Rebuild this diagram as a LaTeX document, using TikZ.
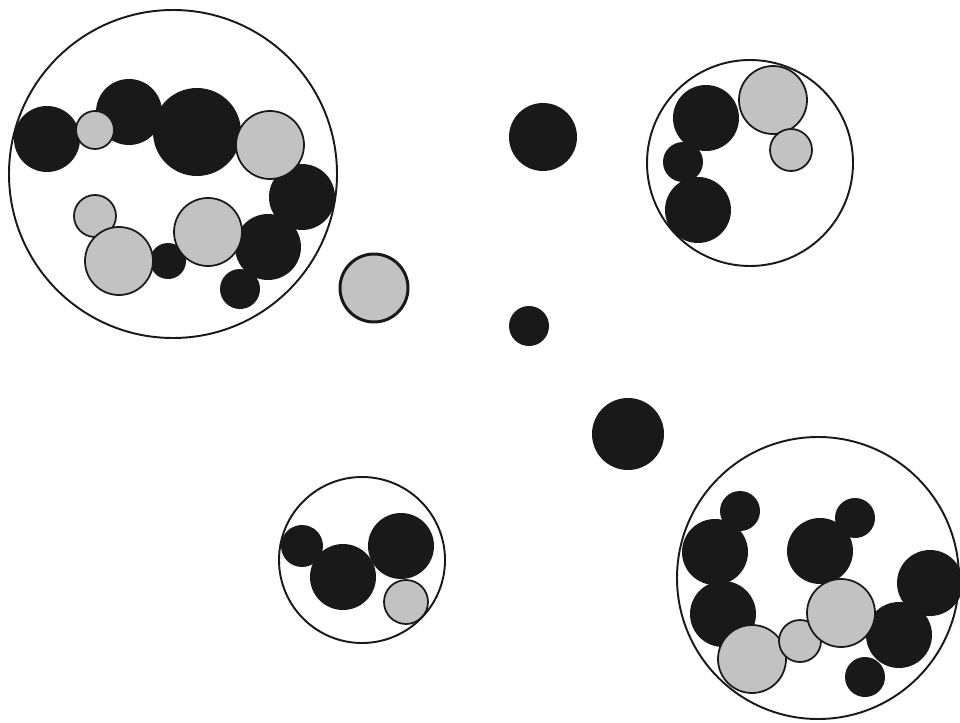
\documentclass[tikz,border=0pt]{standalone}
\usepackage{tikz}

\definecolor{blobblack}{gray}{0.1}
\definecolor{beadgray}{gray}{0.76}

\begin{document}
\begin{tikzpicture}[
  x=0.02cm, y=-0.02cm,
  blob/.style={fill=blobblack},
  bead/.style={fill=beadgray, draw=blobblack, line width=1pt},
  loner/.style={fill=beadgray, draw=blobblack, line width=1.7pt},
  ring/.style={draw=blobblack, line width=1.1pt},
]

\clip (0,0) rectangle (960,723);

% cluster top left
\fill[blob] (47,139) circle (33);
\fill[blob] (129,112) circle (33);
\fill[blob] (197,132) circle (44);
\fill[blob] (302,197) circle (33);
\fill[blob] (268,247) circle (33);
\fill[blob] (168,261) circle (18);
\fill[blob] (240,289) circle (20);
\draw[bead] (95,130) circle (19);
\draw[bead] (270,145) circle (34);
\draw[bead] (95,216) circle (21);
\draw[bead] (119,261) circle (34);
\draw[bead] (208,232) circle (34);
\draw[ring] (173,174) circle (164);

% loose ones
\draw[loner] (374,288) circle (34);
\fill[blob] (543,137) circle (34);
\fill[blob] (529,326) circle (20);
\fill[blob] (628,434) circle (36);

% cluster top right
\fill[blob] (706,118) circle (33);
\fill[blob] (683,162) circle (20);
\fill[blob] (698,210) circle (33);
\draw[bead] (773,100) circle (34);
\draw[bead] (791,150) circle (21);
\draw[ring] (750,163) circle (103);

% cluster bottom middle
\fill[blob] (302,546) circle (21);
\fill[blob] (343,577) circle (33);
\fill[blob] (401,546) circle (33);
\draw[bead] (406,602) circle (22);
\draw[ring] (362,560) circle (83);

% cluster bottom right
\fill[blob] (740,511) circle (20);
\fill[blob] (715,552) circle (33);
\fill[blob] (723,614) circle (33);
\fill[blob] (820,551) circle (33);
\fill[blob] (855,518) circle (20);
\fill[blob] (930,583) circle (33);
\fill[blob] (899,635) circle (33);
\fill[blob] (865,677) circle (20);
\draw[bead] (752,659) circle (34);
\draw[bead] (800,641) circle (21);
\draw[bead] (841,613) circle (34);
\draw[ring] (818,578) circle (141);

\end{tikzpicture}
\end{document}
